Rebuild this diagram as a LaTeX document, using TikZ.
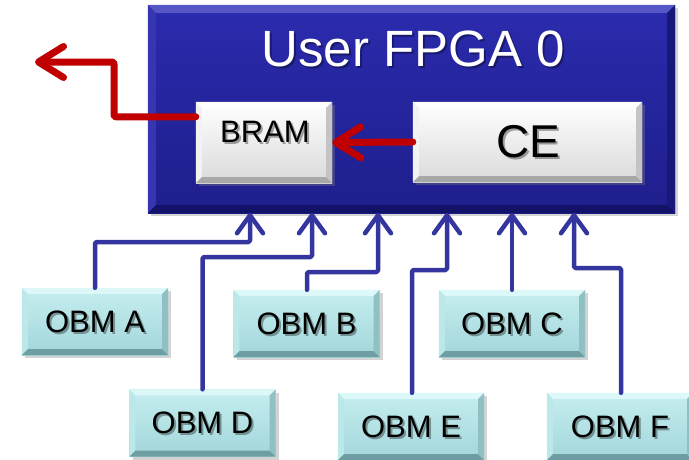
\documentclass[tikz,border=0pt]{standalone}
\usepackage{fontspec}
\setmainfont{Liberation Sans}
\usetikzlibrary{arrows.meta,calc,shadows}
\definecolor{fpgatop}{HTML}{2B2BAE}
\definecolor{fpgabot}{HTML}{1E1E8C}
\definecolor{fpgalite}{HTML}{5656C6}
\definecolor{fpgaleft}{HTML}{3636B2}
\definecolor{fpgaright}{HTML}{18187A}
\definecolor{fpgadark}{HTML}{121268}
\definecolor{obmtop}{HTML}{C6EEF0}
\definecolor{obmbot}{HTML}{A2D6DA}
\definecolor{obmlite}{HTML}{DDF8F9}
\definecolor{obmleft}{HTML}{BCE8EA}
\definecolor{obmright}{HTML}{8EC0C4}
\definecolor{obmdark}{HTML}{6E9EA2}
\definecolor{memtop}{HTML}{FFFFFF}
\definecolor{membot}{HTML}{DADADA}
\definecolor{memlite}{HTML}{FFFFFF}
\definecolor{memleft}{HTML}{F2F2F2}
\definecolor{memright}{HTML}{C4C4C4}
\definecolor{memdark}{HTML}{A8A8A8}
\definecolor{redline}{HTML}{C00000}
\definecolor{blueline}{HTML}{3535A0}
\newcommand\bevelbox[6]{%
  \fill[#3] (#1.north west) -- (#1.north east) -- ($(#1.north east)+(-#2,#2)$) -- ($(#1.north west)+(#2,#2)$) -- cycle;
  \fill[#4] (#1.north west) -- ($(#1.north west)+(#2,#2)$) -- ($(#1.south west)+(#2,-#2)$) -- (#1.south west) -- cycle;
  \fill[#5] (#1.north east) -- ($(#1.north east)+(-#2,#2)$) -- ($(#1.south east)+(-#2,-#2)$) -- (#1.south east) -- cycle;
  \fill[#6] (#1.south west) -- ($(#1.south west)+(#2,-#2)$) -- ($(#1.south east)+(-#2,-#2)$) -- (#1.south east) -- cycle;
}
% shadowed label: name, position, font size, colour, text
\newcommand\shlabel[5]{%
  \node[font=\fontsize{#3}{#3}\selectfont, text=black, opacity=0.35] at ($(#2)+(2,2)$) {#5};
  \node[font=\fontsize{#3}{#3}\selectfont, text=#4] (#1) at (#2) {#5};
}
\tikzset{
  shbox/.style={rectangle, inner sep=0pt, drop shadow={opacity=0.35, shadow xshift=3pt, shadow yshift=-3pt}},
  obm/.style={shbox, minimum width=146pt, minimum height=67pt, top color=obmtop, bottom color=obmbot},
  mem/.style={shbox, top color=memtop, bottom color=membot},
  bluearrow/.style={draw=blueline, line width=4.5pt, line cap=round, line join=round, rounded corners=1.5pt, -{Straight Barb[length=18pt, width=26pt, line cap=round, line join=round]}},
  redarrow/.style={draw=redline, line width=7pt, line cap=round, line join=round, rounded corners=2pt, -{Straight Barb[length=25pt, width=31pt, line cap=round, line join=round]}},
}
\begin{document}
\begin{tikzpicture}[x=1pt, y=-1pt]
\useasboundingbox (0,0) rectangle (689,459);
\clip (0,0) rectangle (689,459);
% FPGA box
\node[shbox, minimum width=527pt, minimum height=208pt, top color=fpgatop, bottom color=fpgabot] (fpga) at (411.5,109) {};
\bevelbox{fpga}{8}{fpgalite}{fpgaleft}{fpgaright}{fpgadark}
\shlabel{title}{413,49}{51}{white}{User FPGA 0}
% BRAM and CE
\node[mem, minimum width=136pt, minimum height=81pt] (bram) at (264,142.5) {};
\bevelbox{bram}{6}{memlite}{memleft}{memright}{memdark}
\shlabel{bramlabel}{265,132}{31}{black}{BRAM}
\node[mem, minimum width=229pt, minimum height=80pt] (ce) at (527.5,142) {};
\bevelbox{ce}{6}{memlite}{memleft}{memright}{memdark}
\shlabel{celabel}{528,142}{46}{black}{CE}
% red arrows
\coordinate (bramout) at ($(bram.north west)+(0,15)$);
\coordinate (exit) at (35,62);
\draw[redarrow] (bramout) -| ($(exit)+(79,0)$) -- (exit);
\draw[redarrow] (ce.west) -- (bram.east);
% OBM boxes
\node[obm] (obmA) at (95,321.5) {};
\node[obm] (obmB) at (306.5,323.5) {};
\node[obm] (obmC) at (512,323.5) {};
\node[obm] (obmD) at (202.5,423) {};
\node[obm] (obmE) at (411,426.5) {};
\node[obm] (obmF) at (620,426.5) {};
\foreach \n in {obmA,obmB,obmC,obmD,obmE,obmF}{\bevelbox{\n}{6}{obmlite}{obmleft}{obmright}{obmdark}}
\shlabel{la}{obmA}{31}{black}{OBM A}
\shlabel{lb}{obmB}{31}{black}{OBM B}
\shlabel{lc}{obmC}{31}{black}{OBM C}
\shlabel{ld}{obmD}{31}{black}{OBM D}
\shlabel{le}{obmE}{31}{black}{OBM E}
\shlabel{lf}{obmF}{31}{black}{OBM F}
% input targets on FPGA bottom
\coordinate (t1) at (250,213);
\coordinate (t2) at (312,213);
\coordinate (t3) at (378,213);
\coordinate (t4) at (447,213);
\coordinate (t5) at (512,213);
\coordinate (t6) at (574,213);
\draw[bluearrow] (obmA.north) |- ($(t1)+(0,29)$) -- (t1);
\draw[bluearrow] (obmD.north) |- ($(t2)+(0,44)$) -- (t2);
\draw[bluearrow] ($(obmB.north)+(0.5,0)$) |- ($(t3)+(0,59)$) -- (t3);
\draw[bluearrow] ($(obmE.north)+(1,0)$) |- ($(t4)+(0,57)$) -- (t4);
\draw[bluearrow] (obmC.north) -- (t5);
\draw[bluearrow] ($(obmF.north)+(1,0)$) |- ($(t6)+(0,55)$) -- (t6);
\end{tikzpicture}
\end{document}
